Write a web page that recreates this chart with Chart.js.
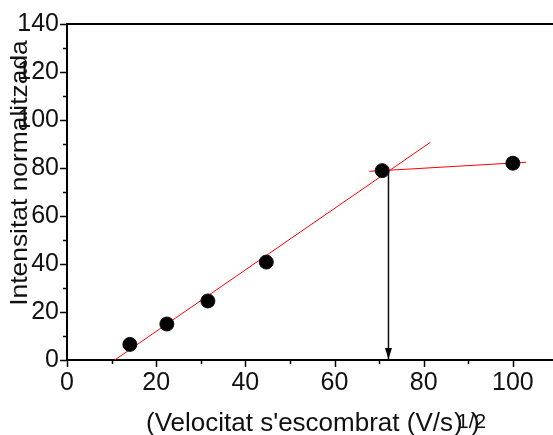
<!DOCTYPE html>
<html>
<head>
<meta charset="utf-8">
<script src="https://cdn.jsdelivr.net/npm/chart.js@4/dist/chart.umd.min.js"></script>
<style>
  html, body { margin: 0; padding: 0; background: #fff; }
  #wrap { width: 553px; height: 435px; }
</style>
</head>
<body>
<div id="wrap"><canvas id="c" width="553" height="435"></canvas></div>
<script>
// Measured intensity vs square root of scan rate
const sweepRoot = [14.1, 22.4, 31.6, 44.7, 70.7, 100];
const intensity = [6.5, 15, 24.6, 40.8, 78.9, 82];

// Fitted straight lines (end points in data units)
const fitLowX = [10.7, 81.5];
const fitLowY = [0, 90.7];
const fitHighX = [67.8, 103];
const fitHighY = [78.6, 82.4];

// Vertical marker dropped from the intersection to the x axis
const markerX = [72.1, 72.1];
const markerY = [79, 0];

const xTickValues = [0, 10, 20, 30, 40, 50, 60, 70, 80, 90, 100];
const yTickValues = [0, 10, 20, 30, 40, 50, 60, 70, 80, 90, 100, 110, 120, 130, 140];

const xTitle = "(Velocitat s'escombrat (V/s";
const yTitle = "Intensitat normalitzada";

const FONT = "'Liberation Sans', Arial, sans-serif";

const pairs = (xs, ys) => xs.map((x, i) => ({ x: x, y: ys[i] }));

// Tick marks (long for labelled values, short in between), frame top and titles
const decor = {
  id: 'decor',
  afterDraw(chart) {
    const ctx = chart.ctx;
    const xs = chart.scales.x, ys = chart.scales.y;
    const a = chart.chartArea;
    ctx.save();
    ctx.strokeStyle = '#000';
    ctx.lineWidth = 1.5;
    xTickValues.forEach(v => {
      const px = Math.round(xs.getPixelForValue(v)) + 0.5;
      const len = v % 20 === 0 ? 7 : 4;
      ctx.beginPath(); ctx.moveTo(px, a.bottom); ctx.lineTo(px, a.bottom + len); ctx.stroke();
    });
    yTickValues.forEach(v => {
      const py = Math.round(ys.getPixelForValue(v)) + 0.5;
      const len = v % 20 === 0 ? 7 : 4;
      ctx.beginPath(); ctx.moveTo(a.left, py); ctx.lineTo(a.left - len, py); ctx.stroke();
    });
    // frame top
    ctx.lineWidth = 2;
    ctx.beginPath(); ctx.moveTo(a.left, a.top); ctx.lineTo(a.right, a.top); ctx.stroke();

    // arrow head at the foot of the marker line
    const meta = chart.getDatasetMeta(3);
    const tip = meta.data[1];
    ctx.fillStyle = '#000';
    ctx.beginPath();
    ctx.moveTo(tip.x, tip.y - 1);
    ctx.lineTo(tip.x - 3.5, tip.y - 12);
    ctx.lineTo(tip.x + 3.5, tip.y - 12);
    ctx.closePath(); ctx.fill();

    // x title with the 1/2 exponent
    ctx.fillStyle = '#111';
    ctx.font = '26px ' + FONT;
    ctx.textBaseline = 'alphabetic';
    ctx.textAlign = 'left';
    ctx.fillText(xTitle, 146, 431);
    const w = ctx.measureText(xTitle).width;
    const ex = 146 + w;
    ctx.fillText(')', ex + 1, 431);
    ctx.font = '21px ' + FONT;
    ctx.fillText('1/2', ex + 4, 428);
    ctx.font = '26px ' + FONT;
    ctx.fillText(')', ex + 18, 431);

    // y title, rotated
    ctx.font = '24px ' + FONT;
    ctx.translate(27, 173);
    ctx.rotate(-Math.PI / 2);
    ctx.scale(1.1, 1);
    ctx.textAlign = 'center';
    ctx.textBaseline = 'alphabetic';
    ctx.fillText(yTitle, 0, 0);
    ctx.restore();
  }
};

new Chart(document.getElementById('c'), {
  type: 'scatter',
  data: {
    datasets: [
      {
        data: pairs(sweepRoot, intensity),
        pointRadius: 7,
        pointHoverRadius: 7,
        backgroundColor: '#000',
        borderColor: '#111',
        borderWidth: 1,
        order: 0
      },
      {
        data: pairs(fitLowX, fitLowY),
        showLine: true,
        borderColor: '#ff0000',
        borderWidth: 1,
        pointRadius: 0,
        order: 1
      },
      {
        data: pairs(fitHighX, fitHighY),
        showLine: true,
        borderColor: '#ff0000',
        borderWidth: 1,
        pointRadius: 0,
        order: 1
      },
      {
        data: pairs(markerX, markerY),
        showLine: true,
        borderColor: '#111',
        borderWidth: 1.5,
        pointRadius: 0,
        order: 1
      }
    ]
  },
  options: {
    responsive: false,
    animation: false,
    events: [],
    layout: { autoPadding: false, padding: { top: 24, right: 0, left: 0, bottom: 0 } },
    plugins: { legend: { display: false }, tooltip: { enabled: false } },
    scales: {
      x: {
        type: 'linear',
        min: 0,
        max: 109,
        afterBuildTicks: s => { s.ticks = xTickValues.map(v => ({ value: v })); },
        afterFit: s => { s.height = 75; s.paddingLeft = 0; s.paddingRight = 0; },
        grid: { display: true, drawOnChartArea: false, drawTicks: false },
        border: { display: true, color: '#000', width: 2 },
        ticks: {
          padding: 8,
          color: '#111',
          font: { family: FONT, size: 25 },
          maxRotation: 0,
          autoSkip: false,
          callback: v => (v % 20 === 0 ? String(v) : '')
        }
      },
      y: {
        type: 'linear',
        min: 0,
        max: 140,
        afterBuildTicks: s => { s.ticks = yTickValues.map(v => ({ value: v })); },
        afterFit: s => { s.width = 67; s.paddingTop = 0; s.paddingBottom = 0; },
        grid: { display: true, drawOnChartArea: false, drawTicks: false },
        border: { display: true, color: '#000', width: 2 },
        ticks: {
          padding: 8,
          color: '#111',
          font: { family: FONT, size: 25 },
          autoSkip: false,
          callback: v => (v % 20 === 0 ? String(v) : '')
        }
      }
    }
  },
  plugins: [decor]
});
</script>
</body>
</html>
